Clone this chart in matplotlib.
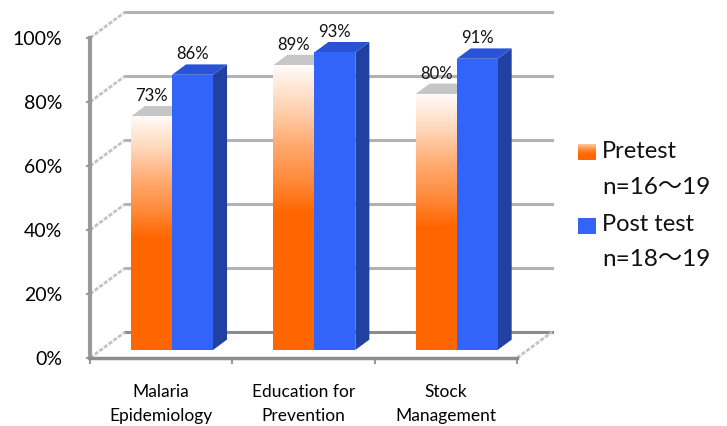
import matplotlib.pyplot as plt
import numpy as np
from matplotlib.colors import LinearSegmentedColormap
from matplotlib.patches import Polygon, Rectangle

plt.rcParams['font.family'] = ['Lato', 'Noto Sans CJK JP', 'DejaVu Sans']

categories = ["Malaria\nEpidemiology", "Education for\nPrevention", "Stock\nManagement"]
pretest = [73, 89, 80]
posttest = [86, 93, 91]
series_names = ["Pretest", "Post test"]
series_notes = ["n=16\u301c19", "n=18\u301c19"]
yticks = [0, 20, 40, 60, 80, 100]

# oblique projection of the depth axis, in data units
DX, DY = 0.246, 8.1
BAR_W = 0.288
BAR_Z0, BAR_D = 0.31, 0.4

orange = "#FF6600"
blue_front, blue_top, blue_side = "#3264FA", "#2A52D6", "#2141A2"
grad = LinearSegmentedColormap.from_list(
    "pre", [(0, orange), (0.48, orange), (0.6, "#FF8B3C"), (0.72, "#FFA96E"),
            (0.86, "#FFD6B8"), (1.0, "#FFFBF8")])

fig = plt.figure(figsize=(7.27, 4.26), dpi=100)
ax = fig.add_axes([90 / 727, 68 / 426, 427 / 727, 320 / 426])
for s in ax.spines.values():
    s.set_visible(False)

# walls and floor
grid_c = "#B2B2B2"
for v in yticks:
    c = "#8C8C8C" if v == 0 else grid_c
    ax.plot([DX, 3 + DX], [v + DY, v + DY], color=c, lw=2.2, clip_on=False, zorder=1)
    ax.plot([0, DX], [v, v + DY], color="#C4C4C4", lw=2, ls=(0, (1.5, 0.6)),
            clip_on=False, zorder=1)
ax.plot([3, 3 + DX], [0, DY], color="#C4C4C4", lw=2, ls=(0, (1.5, 0.6)),
        clip_on=False, zorder=1)
ax.plot([0, 0], [0, 100], color="#999999", lw=3, clip_on=False, zorder=2)
ax.plot([0, 3], [0, 0], color="#8C8C8C", lw=2.5, clip_on=False, zorder=2)

# bars
for i in range(len(categories)):
    left = i + 0.5 - BAR_W + BAR_Z0 * DX
    base = BAR_Z0 * DY
    for s, vals in enumerate([pretest, posttest]):
        x0 = left + s * BAR_W
        top = vals[i] + base
        dx, dy = BAR_D * DX, BAR_D * DY
        if s == 0:
            side_c, top_c = "#E0E0E0", "#C6C6C6"
        else:
            side_c, top_c = blue_side, blue_top
        ax.add_patch(Polygon([(x0 + BAR_W, base), (x0 + BAR_W, top),
                              (x0 + BAR_W + dx, top + dy), (x0 + BAR_W + dx, base + dy)],
                             closed=True, fc=side_c, ec="none", zorder=3 + s))
        ax.add_patch(Polygon([(x0, top), (x0 + BAR_W, top), (x0 + BAR_W + dx, top + dy),
                              (x0 + dx, top + dy)], closed=True, fc=top_c, ec="none",
                             zorder=3 + s))
        if s == 0:
            g = np.linspace(0, 1, 256).reshape(-1, 1)
            ax.imshow(g, cmap=grad, origin="lower", aspect="auto",
                      extent=(x0, x0 + BAR_W, base, top), zorder=3 + s)
        else:
            ax.add_patch(Rectangle((x0, base), BAR_W, vals[i], fc=blue_front, ec="none",
                                   zorder=3 + s))
        ax.annotate(f"{vals[i]}%", (x0 + BAR_W / 2, top + dy), xytext=(0, 1.5),
                    textcoords="offset points", ha="center", va="bottom", fontsize=12,
                    color="#111111", zorder=6)

ax.set_xlim(0, 3)
ax.set_ylim(0, 100)
ax.set_yticks(yticks)
ax.set_yticklabels([f"{v}%" for v in yticks], fontsize=14)
ax.set_xticks([0, 1, 2, 3])
ax.set_xticklabels([])
ax.set_xticks([0.5, 1.5, 2.5], minor=True)
ax.set_xticklabels(categories, minor=True, fontsize=12.5, linespacing=1.6)
ax.tick_params(axis="y", length=3, width=1.5, color="#999999", pad=17)
ax.tick_params(axis="x", which="major", length=4, width=1.5, color="#999999")
ax.tick_params(axis="x", which="minor", length=0, pad=19)
ax.patch.set_visible(False)

# legend
px = lambda x, y: (x / 727, 1 - y / 426)
leg_grad = np.linspace(0, 1, 64).reshape(-1, 1)
lax = fig.add_axes([578 / 727, 1 - 160 / 426, 18 / 727, 16 / 426])
lax.imshow(leg_grad, cmap=LinearSegmentedColormap.from_list("lg", [orange, orange, "#FF8A3A", "#FFC89E"]),
           origin="lower", aspect="auto")
lax.axis("off")
fig.add_artist(Rectangle(px(578, 234), 18 / 727, 16 / 426, transform=fig.transFigure,
                         fc=blue_front, ec="none"))
for k, y in enumerate([152, 225]):
    fig.text(*px(602, y), series_names[k], fontsize=17, va="center", ha="left", color="#111111")
    fig.text(*px(602, y + 35), series_notes[k], fontsize=17.5, va="center", ha="left",
             color="#111111")

fig.savefig("out.png", dpi=100)
